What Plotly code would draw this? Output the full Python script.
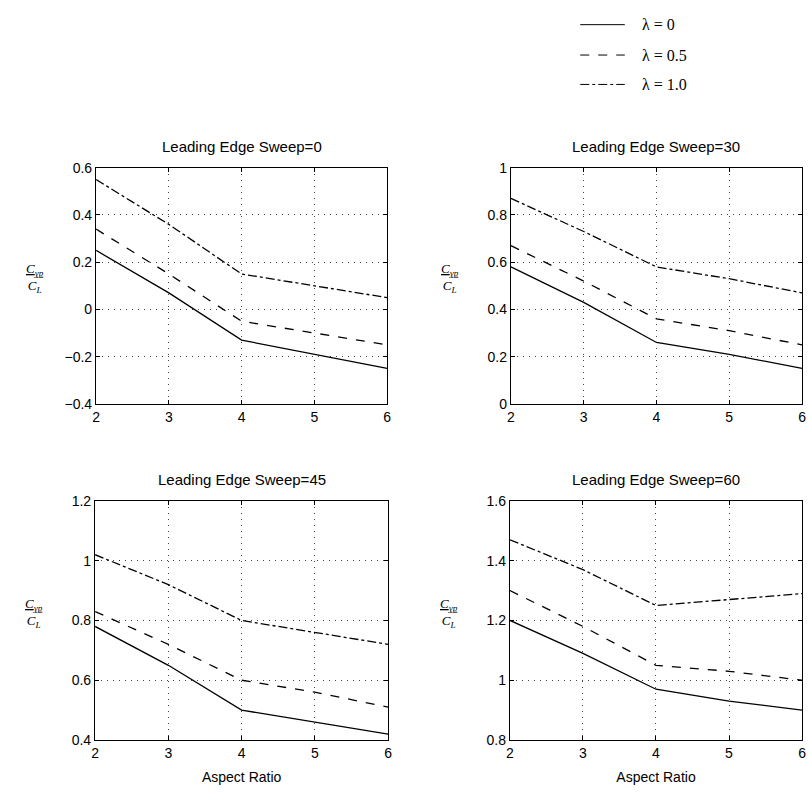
import plotly.graph_objects as go

aspect_ratio = [2, 3, 4, 5, 6]
sweeps = ["0", "30", "45", "60"]
lam_labels = ["λ = 0", "λ = 0.5", "λ = 1.0"]

sweep0 = {
    "l0": [0.25, 0.07, -0.13, -0.19, -0.25],
    "l05": [0.34, 0.15, -0.05, -0.10, -0.15],
    "l1": [0.55, 0.36, 0.15, 0.10, 0.05],
}
sweep30 = {
    "l0": [0.58, 0.43, 0.26, 0.21, 0.15],
    "l05": [0.67, 0.52, 0.36, 0.31, 0.25],
    "l1": [0.87, 0.73, 0.58, 0.53, 0.47],
}
sweep45 = {
    "l0": [0.78, 0.65, 0.50, 0.46, 0.42],
    "l05": [0.83, 0.72, 0.60, 0.56, 0.51],
    "l1": [1.02, 0.92, 0.80, 0.76, 0.72],
}
sweep60 = {
    "l0": [1.20, 1.09, 0.97, 0.93, 0.90],
    "l05": [1.30, 1.18, 1.05, 1.03, 1.00],
    "l1": [1.47, 1.37, 1.25, 1.27, 1.29],
}
y_ranges = [[-0.4, 0.6], [0, 1], [0.4, 1.2], [0.8, 1.6]]
y_dticks = [0.2, 0.2, 0.2, 0.2]

W, H = 809, 798
def px(x): return x / W
def py(y): return 1 - y / H

panels = [
    (sweep0, (93, 387), (163, 404)),
    (sweep30, (512, 806), (163, 404)),
    (sweep45, (92, 388), (503, 747)),
    (sweep60, (511, 806), (503, 747)),
]
dashes = {"l0": "solid", "l05": "dash", "l1": "dashdot"}

fig = go.Figure()
annotations = []
shapes = []
for i, (data, (x0, x1), (y0, y1)) in enumerate(panels):
    n = i + 1
    xa = "x" if n == 1 else f"x{n}"
    ya = "y" if n == 1 else f"y{n}"
    for key in ["l0", "l05", "l1"]:
        fig.add_trace(go.Scatter(
            x=aspect_ratio, y=data[key], mode="lines",
            line=dict(color="black", width=1.3, dash=dashes[key]),
            xaxis=xa, yaxis=ya, showlegend=False))
    axcommon = dict(
        showline=True, linecolor="black", linewidth=1.3, mirror="ticks",
        ticks="inside", ticklen=4, tickcolor="black",
        showgrid=True, gridcolor="#444444", griddash="1px,5px", gridwidth=1,
        zeroline=False,
        tickfont=dict(family="Liberation Sans, Arial", size=14, color="black"),
    )
    fig.layout[f"xaxis{'' if n == 1 else n}"] = dict(
        domain=[px(x0), px(x1)], anchor=ya, range=[2, 6], dtick=1,
        title=dict(text="Aspect Ratio" if n >= 3 else "",
                   font=dict(family="Liberation Sans, Arial", size=14, color="black"),
                   standoff=12),
        **axcommon)
    fig.layout[f"yaxis{'' if n == 1 else n}"] = dict(
        domain=[py(y1), py(y0)], anchor=xa, range=y_ranges[i], dtick=y_dticks[i],
        **axcommon)
    annotations.append(dict(
        text=f"Leading Edge Sweep={sweeps[i]}", x=px((x0 + x1) / 2), y=py(y0 - 22),
        xref="paper", yref="paper", showarrow=False, xanchor="center", yanchor="middle",
        font=dict(family="Liberation Sans, Arial", size=15, color="black")))
    annotations.append(dict(
        text="<u><i>C<sub>yp</sub></i></u><br><i>C<sub>L</sub></i>",
        x=px(x0 - 62), y=py((y0 + y1) / 2 - 8), xref="paper", yref="paper",
        showarrow=False, xanchor="center", yanchor="middle",
        font=dict(family="Liberation Serif, Times New Roman", size=13, color="black")))

# legend
leg_rows = [17, 48, 78]
for (key, yy, lab) in zip(["l0", "l05", "l1"], leg_rows, lam_labels):
    shapes.append(dict(type="line", xref="paper", yref="paper",
                       x0=px(582), x1=px(627), y0=py(yy), y1=py(yy),
                       line=dict(color="black", width=1, dash=dashes[key])))
    annotations.append(dict(text=lab, x=px(642), y=py(yy), xref="paper", yref="paper",
                            showarrow=False, xanchor="left", yanchor="middle",
                            font=dict(family="Liberation Serif, Times New Roman", size=16, color="black")))

fig.update_layout(
    width=W, height=H, margin=dict(l=0, r=0, t=0, b=0),
    paper_bgcolor="white", plot_bgcolor="white",
    annotations=annotations, shapes=shapes, showlegend=False,
)
fig.write_html("out.html")
